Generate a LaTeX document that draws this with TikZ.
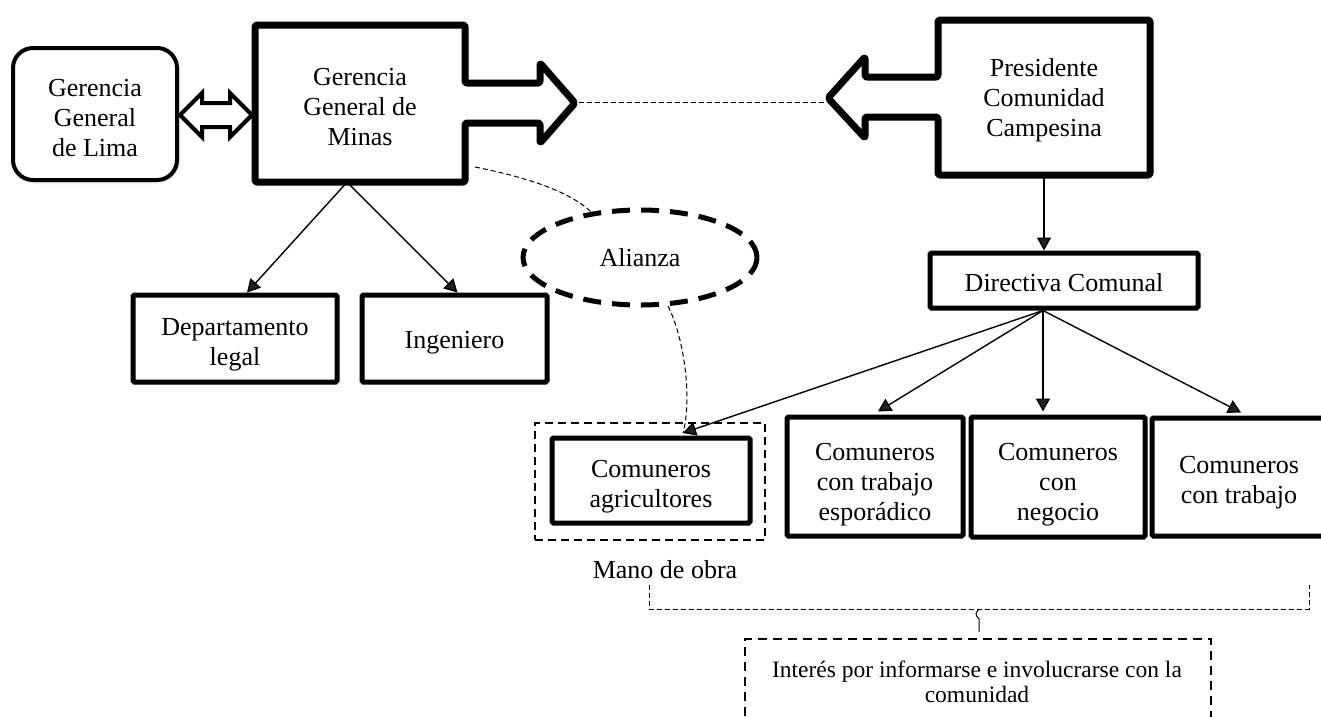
\documentclass[tikz,border=0pt]{standalone}
\usepackage{fontspec}
\setmainfont{Liberation Serif}
\usetikzlibrary{arrows.meta,shapes.geometric,calc,shadows.blur}
\begin{document}
\begin{tikzpicture}[x=1pt,y=-1pt,
  every node/.style={font=\fontsize{26}{30}\selectfont, align=center, inner sep=0pt},
  box/.style={draw, line width=5pt, rectangle, rounded corners=1.5pt},
  softshadow/.style={fill=white, blur shadow={shadow xshift=1.5pt, shadow yshift=-1.5pt, shadow blur radius=3pt, shadow opacity=25}},
  bigshape/.style={draw, line width=7pt, line join=round, rounded corners=2pt, softshadow},
  ghost/.style={rectangle},
  conn/.style={line width=1.4pt, -{Triangle[length=13pt,width=14pt]}},
  thindash/.style={line width=1pt, dash pattern=on 5pt off 3pt},
  framedash/.style={draw, line width=1.6pt, dash pattern=on 8pt off 5pt},
]
\useasboundingbox (0,0) rectangle (1321,716);

% ---- Gerencia General de Lima
\node[draw, line width=4pt, rounded corners=20pt, minimum width=164pt, minimum height=132pt, softshadow] (lima) at (95,114) {};
\node (limat) at ([yshift=-4pt]lima.center) {Gerencia\\General\\de Lima};

% ---- hollow double arrow
\draw[line width=4pt, line join=miter] (180,115) -- (202,93) -- (202,103) -- (230,103) -- (230,93) -- (252,115) -- (230,137) -- (230,127) -- (202,127) -- (202,137) -- cycle;

% ---- Gerencia General de Minas (box with outline arrow)
\draw[bigshape] (255,25) -- (465,25) -- (465,83) -- (540,83) -- (540,63) -- (575,103) -- (540,143) -- (540,123) -- (465,123) -- (465,182) -- (255,182) -- cycle;
\node[ghost, minimum width=210pt, minimum height=157pt] (minas) at (360,103.5) {};
\node (minast) at ([yshift=-4pt]minas.center) {Gerencia\\General de\\Minas};
\coordinate (mtip) at (579,102);

% ---- Presidente Comunidad Campesina (box with outline arrow)
\draw[bigshape] (938,20) -- (1150,20) -- (1150,175) -- (938,175) -- (938,117) -- (865,117) -- (865,138) -- (828,98) -- (865,57) -- (865,77) -- (938,77) -- cycle;
\node[ghost, minimum width=212pt, minimum height=155pt] (pres) at (1044,97.5) {};
\node (prest) at ([yshift=-3pt]pres.center) {Presidente\\Comunidad\\Campesina};
\coordinate (ptip) at (826,102);

\draw[thindash] (mtip) -- (ptip);

% ---- Departamento legal / Ingeniero
\node[box, minimum width=204pt, minimum height=87pt] (depto) at (235,338.5) {};
\node (deptot) at ([yshift=-6pt]depto.center) {Departamento\\legal};
\node[box, minimum width=185pt, minimum height=87pt] (inge) at (454.5,338.5) {};
\node (inget) at ([yshift=-4pt]inge.center) {Ingeniero};
\coordinate (msrc) at ($(minas.south)+(-13,0)$);
\draw[conn] (msrc) -- ($(depto.north)+(12,0)$);
\draw[conn] (msrc) -- ($(inge.north)+(3,0)$);

% ---- Alianza
\node[draw, ellipse, line width=5pt, dash pattern=on 18pt off 11pt, minimum width=234pt, minimum height=95pt] (alianza) at (640,257.5) {Alianza};
\coordinate (mcurve) at (475,167);
\draw[thindash] (mcurve) .. controls (530,178) and (570,192) .. (alianza.137);

% ---- Directiva Comunal
\node[box, minimum width=268pt, minimum height=55pt] (dir) at (1064,280.5) {};
\node (dirt) at ([yshift=-2pt]dir.center) {Directiva Comunal};
\draw[conn] (pres.south) -- (pres.south |- dir.north);
\coordinate (dsrc) at ($(dir.south)+(-21,0)$);

% ---- Comuneros boxes
\node[framedash, minimum width=230pt, minimum height=117pt] (agriout) at (650,481.5) {};
\node[box, minimum width=198pt, minimum height=85pt] (agri) at (651,480.5) {};
\node (agrit) at ([yshift=-6pt]agri.center) {Comuneros\\agricultores};
\node (mano) at (665,570) {Mano de obra};
\node[box, minimum width=176pt, minimum height=119pt] (espo) at (875,476.5) {};
\node (espot) at ([yshift=-8pt]espo.center) {Comuneros\\con trabajo\\esporádico};
\node[box, minimum width=174pt, minimum height=120pt] (nego) at (1058,477) {};
\node (negot) at ([yshift=-8pt]nego.center) {Comuneros\\con\\negocio};
\node[box, minimum width=174pt, minimum height=118pt] (trab) at (1239,477) {};
\node (trabt) at ([yshift=-6pt]trab.center) {Comuneros\\con trabajo};

\coordinate (atip) at (683,433);
\draw[conn] (dsrc) -- (atip);
\draw[conn] (dsrc) -- ($(espo.north)+(3,-3)$);
\draw[conn] (dsrc) -- ($(dsrc |- nego.north)+(0,-3)$);
\draw[conn] (dsrc) -- ($(trab.north)+(2,-3)$);
\draw[thindash] (alianza.-60) .. controls (685,340) and (692,400) .. (atip);

% ---- bracket and interest box
\coordinate (bl) at (649,585);
\coordinate (blc) at (649,609);
\coordinate (brc) at (1309,609);
\coordinate (br) at (1309,585);
\coordinate (bm) at (979,609);
\draw[thindash] (bl) -- (blc) -- (brc) -- (br);
\node[framedash, dash pattern=on 9pt off 6pt, minimum width=466pt, minimum height=110pt] (intbox) at (978,694) {};
\coordinate (bs) at ($(intbox.north -| bm)+(0,-6)$);
\draw[line width=1pt] (bm) .. controls (975,614) .. (979,619) -- (bs);
\node[font=\fontsize{23.5}{25}\selectfont] (inttext) at (977,682) {Interés por informarse e involucrarse con la\\comunidad};
\end{tikzpicture}
\end{document}
